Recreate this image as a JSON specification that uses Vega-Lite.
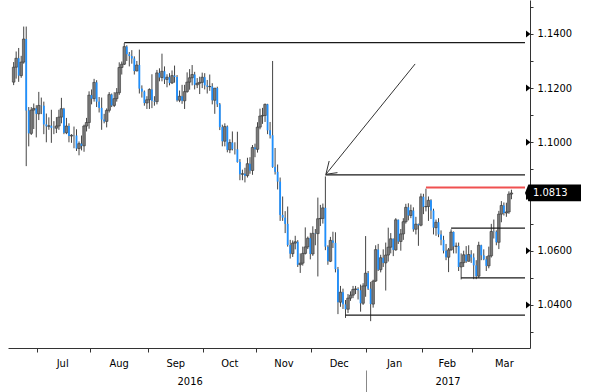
{
"$schema": "https://vega.github.io/schema/vega-lite/v6.json",
"width": 522, "height": 348,
"autosize": "none",
"padding": {"left": 8, "top": 0, "right": 70, "bottom": 44},
"background": "white",
"config": {"view": {"stroke": null}, "axis": {"labelFont": "DejaVu Sans Condensed, Liberation Sans Narrow, DejaVu Sans", "labelFontSize": 11, "labelColor": "#000", "domainColor": "#333", "tickColor": "#333", "grid": false, "title": null, "labelOverlap": false, "labelFlush": false}},
"datasets": {
"bars": [
{"i":-10,"o":1.1222,"h":1.1296,"l":1.1211,"c":1.1277},
{"i":-9,"o":1.1277,"h":1.1335,"l":1.1235,"c":1.1310},
{"i":-8,"o":1.1310,"h":1.1348,"l":1.1223,"c":1.1246},
{"i":-7,"o":1.1246,"h":1.1319,"l":1.1238,"c":1.1296},
{"i":-6,"o":1.1296,"h":1.1427,"l":1.1290,"c":1.1381},
{"i":-5,"o":1.1381,"h":1.1427,"l":1.0912,"c":1.1117},
{"i":-4,"o":1.1117,"h":1.1130,"l":1.0985,"c":1.1033},
{"i":-3,"o":1.1033,"h":1.1130,"l":1.1027,"c":1.1119},
{"i":-2,"o":1.1119,"h":1.1143,"l":1.1049,"c":1.1125},
{"i":-1,"o":1.1125,"h":1.1137,"l":1.1018,"c":1.1105},
{"i":0,"o":1.1105,"h":1.1186,"l":1.1082,"c":1.1136},
{"i":1,"o":1.1136,"h":1.1165,"l":1.1104,"c":1.1135},
{"i":2,"o":1.1135,"h":1.1150,"l":1.1030,"c":1.1066},
{"i":3,"o":1.1066,"h":1.1106,"l":1.1000,"c":1.1059},
{"i":4,"o":1.1059,"h":1.1092,"l":1.1046,"c":1.1061},
{"i":5,"o":1.1061,"h":1.1120,"l":1.0998,"c":1.1053},
{"i":6,"o":1.1053,"h":1.1078,"l":1.1030,"c":1.1052},
{"i":7,"o":1.1052,"h":1.1093,"l":1.1034,"c":1.1060},
{"i":8,"o":1.1060,"h":1.1120,"l":1.1046,"c":1.1093},
{"i":9,"o":1.1093,"h":1.1164,"l":1.1070,"c":1.1124},
{"i":10,"o":1.1124,"h":1.1127,"l":1.1030,"c":1.1035},
{"i":11,"o":1.1035,"h":1.1090,"l":1.1030,"c":1.1060},
{"i":12,"o":1.1060,"h":1.1070,"l":1.1000,"c":1.1023},
{"i":13,"o":1.1023,"h":1.1030,"l":1.0998,"c":1.1026},
{"i":14,"o":1.1026,"h":1.1058,"l":1.0978,"c":1.1025},
{"i":15,"o":1.1025,"h":1.1048,"l":1.0968,"c":1.0977},
{"i":16,"o":1.0977,"h":1.1003,"l":1.0952,"c":1.0995},
{"i":17,"o":1.0995,"h":1.1025,"l":1.0970,"c":1.0987},
{"i":18,"o":1.0987,"h":1.1065,"l":1.0965,"c":1.1060},
{"i":19,"o":1.1060,"h":1.1090,"l":1.1040,"c":1.1073},
{"i":20,"o":1.1073,"h":1.1188,"l":1.1050,"c":1.1174},
{"i":21,"o":1.1174,"h":1.1195,"l":1.1140,"c":1.1161},
{"i":22,"o":1.1161,"h":1.1234,"l":1.1150,"c":1.1221},
{"i":23,"o":1.1221,"h":1.1229,"l":1.1130,"c":1.1150},
{"i":24,"o":1.1150,"h":1.1167,"l":1.1110,"c":1.1127},
{"i":25,"o":1.1127,"h":1.1165,"l":1.1046,"c":1.1084},
{"i":26,"o":1.1084,"h":1.1105,"l":1.1070,"c":1.1077},
{"i":27,"o":1.1077,"h":1.1125,"l":1.1055,"c":1.1118},
{"i":28,"o":1.1118,"h":1.1185,"l":1.1110,"c":1.1176},
{"i":29,"o":1.1176,"h":1.1180,"l":1.1130,"c":1.1136},
{"i":30,"o":1.1136,"h":1.1185,"l":1.1130,"c":1.1161},
{"i":31,"o":1.1161,"h":1.1200,"l":1.1150,"c":1.1183},
{"i":32,"o":1.1183,"h":1.1295,"l":1.1175,"c":1.1276},
{"i":33,"o":1.1276,"h":1.1298,"l":1.1250,"c":1.1288},
{"i":34,"o":1.1288,"h":1.1366,"l":1.1285,"c":1.1353},
{"i":35,"o":1.1353,"h":1.1358,"l":1.1300,"c":1.1325},
{"i":36,"o":1.1325,"h":1.1333,"l":1.1280,"c":1.1318},
{"i":37,"o":1.1318,"h":1.1340,"l":1.1290,"c":1.1309},
{"i":38,"o":1.1309,"h":1.1317,"l":1.1250,"c":1.1263},
{"i":39,"o":1.1263,"h":1.1300,"l":1.1262,"c":1.1285},
{"i":40,"o":1.1285,"h":1.1342,"l":1.1180,"c":1.1198},
{"i":41,"o":1.1198,"h":1.1210,"l":1.1165,"c":1.1187},
{"i":42,"o":1.1187,"h":1.1191,"l":1.1135,"c":1.1145},
{"i":43,"o":1.1145,"h":1.1170,"l":1.1123,"c":1.1157},
{"i":44,"o":1.1157,"h":1.1199,"l":1.1123,"c":1.1195},
{"i":45,"o":1.1195,"h":1.1251,"l":1.1126,"c":1.1153},
{"i":46,"o":1.1153,"h":1.1170,"l":1.1135,"c":1.1150},
{"i":47,"o":1.1150,"h":1.1267,"l":1.1140,"c":1.1256},
{"i":48,"o":1.1256,"h":1.1273,"l":1.1225,"c":1.1239},
{"i":49,"o":1.1239,"h":1.1327,"l":1.1225,"c":1.1262},
{"i":50,"o":1.1262,"h":1.1280,"l":1.1215,"c":1.1232},
{"i":51,"o":1.1232,"h":1.1251,"l":1.1203,"c":1.1240},
{"i":52,"o":1.1240,"h":1.1255,"l":1.1210,"c":1.1219},
{"i":53,"o":1.1219,"h":1.1265,"l":1.1215,"c":1.1246},
{"i":54,"o":1.1246,"h":1.1283,"l":1.1220,"c":1.1241},
{"i":55,"o":1.1241,"h":1.1248,"l":1.1150,"c":1.1155},
{"i":56,"o":1.1155,"h":1.1191,"l":1.1148,"c":1.1170},
{"i":57,"o":1.1170,"h":1.1212,"l":1.1142,"c":1.1153},
{"i":58,"o":1.1153,"h":1.1212,"l":1.1123,"c":1.1187},
{"i":59,"o":1.1187,"h":1.1258,"l":1.1183,"c":1.1222},
{"i":60,"o":1.1222,"h":1.1270,"l":1.1194,"c":1.1238},
{"i":61,"o":1.1238,"h":1.1285,"l":1.1210,"c":1.1250},
{"i":62,"o":1.1250,"h":1.1260,"l":1.1195,"c":1.1212},
{"i":63,"o":1.1212,"h":1.1237,"l":1.1200,"c":1.1218},
{"i":64,"o":1.1218,"h":1.1242,"l":1.1178,"c":1.1221},
{"i":65,"o":1.1221,"h":1.1257,"l":1.1200,"c":1.1240},
{"i":66,"o":1.1240,"h":1.1255,"l":1.1195,"c":1.1210},
{"i":67,"o":1.1210,"h":1.1230,"l":1.1180,"c":1.1205},
{"i":68,"o":1.1205,"h":1.1250,"l":1.1190,"c":1.1206},
{"i":69,"o":1.1206,"h":1.1218,"l":1.1140,"c":1.1155},
{"i":70,"o":1.1155,"h":1.1200,"l":1.1105,"c":1.1200},
{"i":71,"o":1.1200,"h":1.1205,"l":1.1130,"c":1.1140},
{"i":72,"o":1.1140,"h":1.1145,"l":1.1045,"c":1.1056},
{"i":73,"o":1.1056,"h":1.1065,"l":1.0985,"c":1.1004},
{"i":74,"o":1.1004,"h":1.1070,"l":1.0985,"c":1.1058},
{"i":75,"o":1.1058,"h":1.1062,"l":1.0963,"c":1.0972},
{"i":76,"o":1.0972,"h":1.1011,"l":1.0960,"c":1.0999},
{"i":77,"o":1.0999,"h":1.1040,"l":1.0970,"c":1.0975},
{"i":78,"o":1.0975,"h":1.1000,"l":1.0955,"c":1.0974},
{"i":79,"o":1.0974,"h":1.1039,"l":1.0925,"c":1.0927},
{"i":80,"o":1.0927,"h":1.0938,"l":1.0860,"c":1.0882},
{"i":81,"o":1.0882,"h":1.0899,"l":1.0860,"c":1.0884},
{"i":82,"o":1.0884,"h":1.0906,"l":1.0852,"c":1.0877},
{"i":83,"o":1.0877,"h":1.0943,"l":1.0870,"c":1.0921},
{"i":84,"o":1.0921,"h":1.0945,"l":1.0884,"c":1.0896},
{"i":85,"o":1.0896,"h":1.0990,"l":1.0880,"c":1.0981},
{"i":86,"o":1.0981,"h":1.0995,"l":1.0945,"c":1.0974},
{"i":87,"o":1.0974,"h":1.1074,"l":1.0962,"c":1.1056},
{"i":88,"o":1.1056,"h":1.1124,"l":1.1048,"c":1.1097},
{"i":89,"o":1.1097,"h":1.1127,"l":1.1068,"c":1.1099},
{"i":90,"o":1.1099,"h":1.1143,"l":1.1075,"c":1.1140},
{"i":91,"o":1.1140,"h":1.1142,"l":1.1030,"c":1.1044},
{"i":92,"o":1.1044,"h":1.1075,"l":1.1014,"c":1.1026},
{"i":93,"o":1.1026,"h":1.1300,"l":1.0906,"c":1.0909},
{"i":94,"o":1.0909,"h":1.0979,"l":1.0881,"c":1.0891},
{"i":95,"o":1.0891,"h":1.0918,"l":1.0826,"c":1.0855},
{"i":96,"o":1.0855,"h":1.0870,"l":1.0710,"c":1.0732},
{"i":97,"o":1.0732,"h":1.0800,"l":1.0710,"c":1.0722},
{"i":98,"o":1.0722,"h":1.0746,"l":1.0665,"c":1.0699},
{"i":99,"o":1.0699,"h":1.0763,"l":1.0615,"c":1.0621},
{"i":100,"o":1.0621,"h":1.0640,"l":1.0571,"c":1.0589},
{"i":101,"o":1.0589,"h":1.0638,"l":1.0577,"c":1.0628},
{"i":102,"o":1.0628,"h":1.0655,"l":1.0605,"c":1.0633},
{"i":103,"o":1.0633,"h":1.0639,"l":1.0540,"c":1.0548},
{"i":104,"o":1.0548,"h":1.0590,"l":1.0518,"c":1.0554},
{"i":105,"o":1.0554,"h":1.0615,"l":1.0545,"c":1.0590},
{"i":106,"o":1.0590,"h":1.0686,"l":1.0586,"c":1.0614},
{"i":107,"o":1.0614,"h":1.0652,"l":1.0606,"c":1.0646},
{"i":108,"o":1.0646,"h":1.0666,"l":1.0568,"c":1.0588},
{"i":109,"o":1.0588,"h":1.0690,"l":1.0581,"c":1.0664},
{"i":110,"o":1.0664,"h":1.0680,"l":1.0620,"c":1.0663},
{"i":111,"o":1.0663,"h":1.0796,"l":1.0505,"c":1.0718},
{"i":112,"o":1.0718,"h":1.0769,"l":1.0691,"c":1.0719},
{"i":113,"o":1.0719,"h":1.0774,"l":1.0700,"c":1.0758},
{"i":114,"o":1.0758,"h":1.0874,"l":1.0602,"c":1.0615},
{"i":115,"o":1.0615,"h":1.0620,"l":1.0548,"c":1.0561},
{"i":116,"o":1.0561,"h":1.0651,"l":1.0558,"c":1.0638},
{"i":117,"o":1.0638,"h":1.0670,"l":1.0610,"c":1.0629},
{"i":118,"o":1.0629,"h":1.0668,"l":1.0520,"c":1.0532},
{"i":119,"o":1.0532,"h":1.0540,"l":1.0366,"c":1.0410},
{"i":120,"o":1.0410,"h":1.0470,"l":1.0393,"c":1.0447},
{"i":121,"o":1.0447,"h":1.0460,"l":1.0385,"c":1.0402},
{"i":122,"o":1.0402,"h":1.0418,"l":1.0352,"c":1.0384},
{"i":123,"o":1.0384,"h":1.0440,"l":1.0370,"c":1.0425},
{"i":124,"o":1.0425,"h":1.0450,"l":1.0415,"c":1.0436},
{"i":125,"o":1.0436,"h":1.0470,"l":1.0425,"c":1.0457},
{"i":126,"o":1.0457,"h":1.0470,"l":1.0440,"c":1.0459},
{"i":127,"o":1.0459,"h":1.0465,"l":1.0420,"c":1.0454},
{"i":128,"o":1.0454,"h":1.0475,"l":1.0375,"c":1.0406},
{"i":129,"o":1.0406,"h":1.0480,"l":1.0400,"c":1.0470},
{"i":130,"o":1.0470,"h":1.0654,"l":1.0430,"c":1.0517},
{"i":131,"o":1.0517,"h":1.0525,"l":1.0455,"c":1.0460},
{"i":132,"o":1.0460,"h":1.0485,"l":1.0340,"c":1.0403},
{"i":133,"o":1.0403,"h":1.0493,"l":1.0390,"c":1.0488},
{"i":134,"o":1.0488,"h":1.0620,"l":1.0485,"c":1.0604},
{"i":135,"o":1.0604,"h":1.0625,"l":1.0525,"c":1.0530},
{"i":136,"o":1.0530,"h":1.0585,"l":1.0520,"c":1.0574},
{"i":137,"o":1.0574,"h":1.0605,"l":1.0540,"c":1.0555},
{"i":138,"o":1.0555,"h":1.0630,"l":1.0453,"c":1.0584},
{"i":139,"o":1.0584,"h":1.0685,"l":1.0560,"c":1.0613},
{"i":140,"o":1.0613,"h":1.0665,"l":1.0590,"c":1.0644},
{"i":141,"o":1.0644,"h":1.0645,"l":1.0580,"c":1.0603},
{"i":142,"o":1.0603,"h":1.0720,"l":1.0600,"c":1.0714},
{"i":143,"o":1.0714,"h":1.0715,"l":1.0625,"c":1.0634},
{"i":144,"o":1.0634,"h":1.0680,"l":1.0600,"c":1.0662},
{"i":145,"o":1.0662,"h":1.0720,"l":1.0640,"c":1.0707},
{"i":146,"o":1.0707,"h":1.0773,"l":1.0700,"c":1.0760},
{"i":147,"o":1.0760,"h":1.0775,"l":1.0712,"c":1.0730},
{"i":148,"o":1.0730,"h":1.0770,"l":1.0720,"c":1.0748},
{"i":149,"o":1.0748,"h":1.0760,"l":1.0670,"c":1.0679},
{"i":150,"o":1.0679,"h":1.0725,"l":1.0660,"c":1.0698},
{"i":151,"o":1.0698,"h":1.0700,"l":1.0618,"c":1.0694},
{"i":152,"o":1.0694,"h":1.0811,"l":1.0690,"c":1.0799},
{"i":153,"o":1.0799,"h":1.0810,"l":1.0735,"c":1.0762},
{"i":154,"o":1.0762,"h":1.0829,"l":1.0745,"c":1.0763},
{"i":155,"o":1.0763,"h":1.0800,"l":1.0710,"c":1.0786},
{"i":156,"o":1.0786,"h":1.0790,"l":1.0717,"c":1.0748},
{"i":157,"o":1.0748,"h":1.0755,"l":1.0660,"c":1.0685},
{"i":158,"o":1.0685,"h":1.0715,"l":1.0655,"c":1.0705},
{"i":159,"o":1.0705,"h":1.0720,"l":1.0650,"c":1.0660},
{"i":160,"o":1.0660,"h":1.0675,"l":1.0620,"c":1.0640},
{"i":161,"o":1.0640,"h":1.0655,"l":1.0590,"c":1.0600},
{"i":162,"o":1.0600,"h":1.0625,"l":1.0565,"c":1.0576},
{"i":163,"o":1.0576,"h":1.0610,"l":1.0521,"c":1.0603},
{"i":164,"o":1.0603,"h":1.0679,"l":1.0600,"c":1.0669},
{"i":165,"o":1.0669,"h":1.0671,"l":1.0590,"c":1.0616},
{"i":166,"o":1.0616,"h":1.0630,"l":1.0590,"c":1.0617},
{"i":167,"o":1.0617,"h":1.0630,"l":1.0525,"c":1.0540},
{"i":168,"o":1.0540,"h":1.0590,"l":1.0494,"c":1.0556},
{"i":169,"o":1.0556,"h":1.0600,"l":1.0540,"c":1.0585},
{"i":170,"o":1.0585,"h":1.0617,"l":1.0555,"c":1.0561},
{"i":171,"o":1.0561,"h":1.0620,"l":1.0560,"c":1.0586},
{"i":172,"o":1.0586,"h":1.0602,"l":1.0555,"c":1.0575},
{"i":173,"o":1.0575,"h":1.0590,"l":1.0495,"c":1.0546},
{"i":174,"o":1.0546,"h":1.0565,"l":1.0495,"c":1.0506},
{"i":175,"o":1.0506,"h":1.0633,"l":1.0500,"c":1.0620},
{"i":176,"o":1.0620,"h":1.0622,"l":1.0565,"c":1.0583},
{"i":177,"o":1.0583,"h":1.0605,"l":1.0565,"c":1.0568},
{"i":178,"o":1.0568,"h":1.0580,"l":1.0525,"c":1.0544},
{"i":179,"o":1.0544,"h":1.0615,"l":1.0535,"c":1.0581},
{"i":180,"o":1.0581,"h":1.0699,"l":1.0575,"c":1.0671},
{"i":181,"o":1.0671,"h":1.0715,"l":1.0645,"c":1.0670},
{"i":182,"o":1.0670,"h":1.0675,"l":1.0620,"c":1.0631},
{"i":183,"o":1.0631,"h":1.0747,"l":1.0606,"c":1.0735},
{"i":184,"o":1.0735,"h":1.0783,"l":1.0705,"c":1.0767},
{"i":185,"o":1.0767,"h":1.0778,"l":1.0730,"c":1.0739},
{"i":186,"o":1.0739,"h":1.0777,"l":1.0725,"c":1.0743},
{"i":187,"o":1.0743,"h":1.0819,"l":1.0736,"c":1.0809},
{"i":188,"o":1.0809,"h":1.0825,"l":1.0790,"c":1.0813}
],
"levels": [
{"from": 34, "level": 1.1368},
{"from": 114, "level": 1.0880},
{"from": 164, "level": 1.0683},
{"from": 168, "level": 1.0500},
{"from": 122, "level": 1.0362}
],
"red": [{"from": 154, "level": 1.0833}],
"arrow": [
{"x1": 149.7, "y1": 1.1289, "x2": 114.2, "y2": 1.0882},
{"x1": 114.2, "y1": 1.0882, "x2": 115.5, "y2": 1.0931},
{"x1": 114.2, "y1": 1.0882, "x2": 118.8, "y2": 1.0888}
],
"majors": [{"v": 1.04}, {"v": 1.06}, {"v": 1.08}, {"v": 1.10}, {"v": 1.12}, {"v": 1.14}],
"last": [{"p": 1.0813, "label": "1.0813"}]
},
"layer": [
{"data": {"name": "bars"},
 "mark": {"type": "rule", "color": "#444", "strokeWidth": 1},
 "encoding": {
  "x": {"field": "i", "type": "quantitative", "scale": {"domain": [-10.26, 193.4], "nice": false, "zero": false},
        "axis": {"orient": "bottom", "values": [-0.7, 20.3, 43.3, 65.3, 86.3, 108.3, 130.3, 152.3, 172.3], "labels": false, "ticks": true, "tickSize": 4, "domain": true}},
  "y": {"field": "l", "type": "quantitative", "scale": {"domain": [1.0241, 1.1525], "nice": false, "zero": false},
        "axis": {"orient": "right", "values": [1.03, 1.04, 1.05, 1.06, 1.07, 1.08, 1.09, 1.10, 1.11, 1.12, 1.13, 1.14, 1.15], "tickSize": 3, "labelPadding": 4,
                 "labelExpr": "(round(datum.value*100) % 2 == 0 && round(datum.value*100) != 108) ? format(datum.value, '.4f') : ''"}},
  "y2": {"field": "h"}
 }},
{"data": {"name": "bars"},
 "mark": {"type": "bar", "strokeWidth": 0.6},
 "encoding": {
  "x": {"field": "i", "type": "quantitative",
        "axis": {"orient": "bottom", "values": [9.3, 31.8, 54.3, 75.8, 97.3, 119.3, 141.3, 162.3, 185], "ticks": false, "domain": false, "labelPadding": 9,
                 "labelExpr": "['Jul','Aug','Sep','Oct','Nov','Dec','Jan','Feb','Mar'][indexof([9.3,31.8,54.3,75.8,97.3,119.3,141.3,162.3,185], datum.value)]"}},
  "y": {"field": "o", "type": "quantitative", "axis": null},
  "y2": {"field": "c"},
  "color": {"condition": {"test": "datum.c >= datum.o", "value": "#7a7a7a"}, "value": "#1e90ff"},
  "stroke": {"condition": {"test": "datum.c >= datum.o", "value": "#333"}, "value": null},
  "size": {"condition": {"test": "datum.c >= datum.o", "value": 2.6}, "value": 1.8}
 }},
{"data": {"name": "levels"},
 "mark": {"type": "rule", "color": "#1a1a1a", "strokeWidth": 1.2},
 "encoding": {
  "x": {"field": "from", "type": "quantitative",
        "axis": {"orient": "bottom", "values": [60, 162.6], "ticks": false, "domain": false, "labelPadding": 27,
                 "labelExpr": "datum.value < 100 ? '2016' : '2017'"}},
  "x2": {"datum": 193.4},
  "y": {"field": "level", "type": "quantitative", "axis": null}
 }},
{"data": {"name": "red"},
 "mark": {"type": "rule", "color": "#f05050", "strokeWidth": 2},
 "encoding": {
  "x": {"field": "from", "type": "quantitative",
        "axis": {"orient": "bottom", "values": [130.3], "labels": false, "ticks": true, "tickSize": 22, "offset": 22, "domain": false, "tickColor": "#888"}},
  "x2": {"datum": 193.4},
  "y": {"field": "level", "type": "quantitative", "axis": null}
 }},
{"data": {"name": "arrow"},
 "mark": {"type": "rule", "color": "#333", "strokeWidth": 1},
 "encoding": {
  "x": {"field": "x1", "type": "quantitative", "axis": null},
  "x2": {"field": "x2"},
  "y": {"field": "y1", "type": "quantitative", "axis": null},
  "y2": {"field": "y2"}
 }},
{"data": {"name": "majors"},
 "mark": {"type": "point", "filled": true, "opacity": 1, "color": "#000", "shape": "M0.2,-0.7 L1.1,0 L0.2,0.7 Z", "size": 100},
 "encoding": {
  "x": {"datum": 193.4, "type": "quantitative", "axis": null},
  "y": {"field": "v", "type": "quantitative", "axis": null}
 }},
{"data": {"name": "last"},
 "mark": {"type": "point", "filled": true, "opacity": 1, "color": "#000", "shape": "M0,0 L0.12,-0.3 L2,-0.3 L2,0.3 L0.12,0.3 Z", "size": 3136},
 "encoding": {
  "x": {"datum": 193.4, "type": "quantitative", "axis": null},
  "y": {"field": "p", "type": "quantitative", "axis": null}
 }},
{"data": {"name": "last"},
 "mark": {"type": "text", "color": "#fff", "align": "left", "baseline": "middle", "dx": 8, "font": "DejaVu Sans Condensed, Liberation Sans Narrow, DejaVu Sans", "fontSize": 11},
 "encoding": {
  "x": {"datum": 193.4, "type": "quantitative", "axis": null},
  "y": {"field": "p", "type": "quantitative", "axis": null},
  "text": {"field": "label"}
 }}
],
"resolve": {"axis": {"x": "independent", "y": "independent"}}
}
